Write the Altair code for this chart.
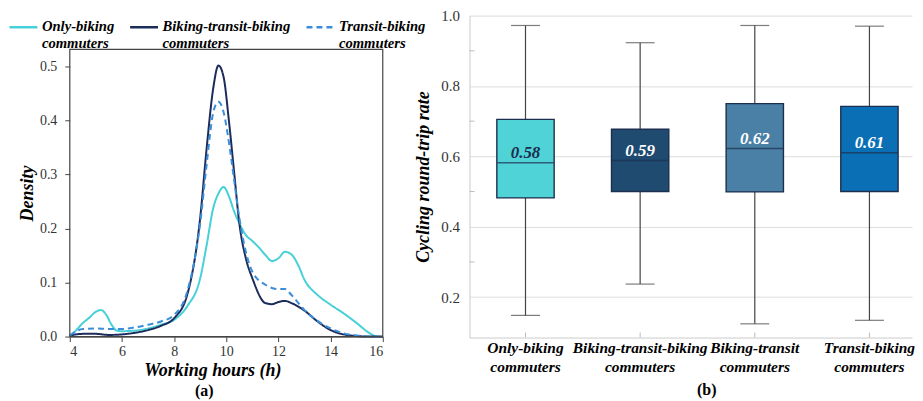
import altair as alt
import pandas as pd

SERIF = "Liberation Serif"

# ---------------- (a) density curves ----------------
groups = ["Only-biking commuters", "Biking-transit-biking commuters", "Transit-biking commuters"]
line_colors = ["#48d0d8", "#1c2d5c", "#3a8ed8"]

hours_ob = [4, 4.25, 4.5, 4.75, 5, 5.2, 5.4, 5.6, 5.8, 6, 6.5, 7, 7.5, 8, 8.5, 9, 9.25, 9.5, 9.7,
            9.9, 10.1, 10.3, 10.5, 10.75, 11, 11.25, 11.5, 11.75, 12, 12.25, 12.5, 12.75, 13,
            13.5, 14, 14.5, 15, 15.5, 15.75]
dens_ob = [0.0, 0.012, 0.025, 0.035, 0.046, 0.049, 0.040, 0.022, 0.011, 0.010, 0.011, 0.015,
           0.022, 0.031, 0.056, 0.108, 0.170, 0.238, 0.265, 0.277, 0.260, 0.232, 0.210, 0.188,
           0.177, 0.165, 0.151, 0.140, 0.145, 0.157, 0.152, 0.133, 0.105, 0.077, 0.059, 0.043,
           0.025, 0.006, 0.0]

hours_btb = [4, 4.5, 5, 5.5, 6, 6.5, 7, 7.5, 8, 8.5, 9, 9.25, 9.5, 9.7, 9.9, 10.1, 10.3, 10.5,
             10.75, 11, 11.5, 11.75, 12, 12.25, 12.5, 13, 13.5, 14, 14.5, 15, 15.5, 16]
dens_btb = [0.002, 0.005, 0.005, 0.003, 0.004, 0.007, 0.012, 0.020, 0.034, 0.077, 0.220, 0.350,
            0.460, 0.502, 0.480, 0.400, 0.305, 0.210, 0.145, 0.108, 0.062, 0.060, 0.064, 0.066,
            0.062, 0.048, 0.028, 0.012, 0.004, 0.001, 0.0, 0.0]

hours_tb = [4, 4.5, 5, 5.5, 6, 6.5, 7, 7.5, 8, 8.5, 9, 9.25, 9.5, 9.7, 9.9, 10.1, 10.3, 10.5,
            10.75, 11, 11.5, 12, 12.25, 12.5, 13, 13.5, 14, 14.5, 15, 15.5, 16]
dens_tb = [0.002, 0.014, 0.015, 0.014, 0.014, 0.017, 0.022, 0.028, 0.040, 0.083, 0.210, 0.320,
           0.415, 0.435, 0.415, 0.360, 0.290, 0.220, 0.157, 0.120, 0.096, 0.088, 0.088, 0.077,
           0.049, 0.029, 0.015, 0.006, 0.002, 0.0, 0.0]

rows = []
for g, hs, ds in zip(groups, [hours_ob, hours_btb, hours_tb], [dens_ob, dens_btb, dens_tb]):
    for h, d in zip(hs, ds):
        rows.append({"group": g, "hours": h, "density": d})
kde = pd.DataFrame(rows)

x_ticks_a = [4, 6, 8, 10, 12, 14, 16]
y_ticks_a = [0.0, 0.1, 0.2, 0.3, 0.4, 0.5]
# panel frame extent (axis limits of panel a)
frame_df = pd.DataFrame({"x0": [4], "x1": [16], "y0": [0.0], "y1": [0.532]})

NB = "\u00a0"
leg_expr = ("datum.label == 'Only-biking commuters' ? ['Only-biking', '" + NB + "commuters'] : "
            "datum.label == 'Biking-transit-biking commuters' ? ['Biking-transit-biking', '"
            + NB * 8 + "commuters'] : ['Transit-biking', '" + NB * 3 + "commuters']")

leg = alt.Legend(orient="none", legendX=-62, legendY=-4, direction="horizontal", title=None,
                 symbolType="stroke", symbolSize=784, symbolStrokeWidth=2.5,
                 labelFont=SERIF, labelFontSize=14.7, labelFontStyle="italic",
                 labelFontWeight="bold", labelColor="black", labelLimit=400,
                 labelOffset=3, columnPadding=10, padding=0, labelExpr=leg_expr)

H_A = 322
xs_a = alt.Scale(domain=[4, 16], nice=False)
ys_a = alt.Scale(domain=[0, 0.5944], nice=False)
xaxis_a = alt.Axis(values=x_ticks_a, title="Working hours (h)", grid=False,
                   labelFont=SERIF, labelFontSize=14, labelColor="#333",
                   tickColor="#444", tickSize=5, labelPadding=3, domainColor="#444",
                   titleFont=SERIF, titleFontSize=18, titleFontStyle="italic",
                   titleFontWeight="bold", titleColor="black", titlePadding=3, titleX=143)
yaxis_a = alt.Axis(values=y_ticks_a, format=".1f", title="Density", grid=False,
                   domain=False, labelFont=SERIF, labelFontSize=14, labelColor="#333",
                   tickColor="#444", tickSize=5, labelPadding=8,
                   titleFont=SERIF, titleFontSize=18, titleFontStyle="italic",
                   titleFontWeight="bold", titleColor="black", titlePadding=3, titleY=178)

lines = alt.Chart(kde).mark_line(strokeWidth=2, interpolate="monotone").encode(
    x=alt.X("hours:Q", scale=xs_a, axis=xaxis_a, title="Working hours (h)"),
    y=alt.Y("density:Q", scale=ys_a, axis=yaxis_a, title="Density"),
    color=alt.Color("group:N", scale=alt.Scale(domain=groups, range=line_colors), legend=leg),
    strokeDash=alt.StrokeDash("group:N", scale=alt.Scale(domain=groups,
                              range=[[1, 0], [1, 0], [6, 4]]), legend=leg),
)
frame = alt.Chart(frame_df).mark_rect(fillOpacity=0, stroke="#444", strokeWidth=1.2).encode(
    x=alt.X("x0:Q", scale=xs_a, axis=xaxis_a, title="Working hours (h)"), x2="x1:Q",
    y=alt.Y("y0:Q", scale=ys_a, axis=yaxis_a, title="Density"), y2="y1:Q",
)

left = alt.layer(lines, frame).properties(
    width=314, height=H_A,
    title=alt.TitleParams("(a)", orient="bottom", font=SERIF, fontSize=16, fontWeight="bold",
                          color="black", offset=4, anchor="middle", dx=-22),
)

# ---------------- (b) box plots ----------------
cats = ["Only-biking commuters", "Biking-transit-biking commuters",
        "Biking-transit commuters", "Transit-biking commuters"]
box_colors = ["#4fd3d6", "#1f4b70", "#4a80a6", "#0a6fb5"]
lower = [0.148, 0.237, 0.124, 0.134]
q1 = [0.482, 0.500, 0.499, 0.500]
median = [0.582, 0.588, 0.622, 0.610]
q3 = [0.705, 0.677, 0.750, 0.742]
upper = [0.972, 0.923, 0.972, 0.970]
y_ticks_b = [0.2, 0.4, 0.6, 0.8, 1.0]
minor_b = [0.3, 0.5, 0.7, 0.9]

box_df = pd.DataFrame({"category": cats, "lower": lower, "q1": q1, "median": median,
                       "q3": q3, "upper": upper})
minor_df = pd.DataFrame({"v": minor_b})

H_B = 323
W_B = 444
yscale = alt.Scale(domain=[0.085, 1.0], nice=False, zero=False)
yaxis = alt.Axis(values=y_ticks_b, format=".1f", title="Cycling round-trip rate",
                 grid=True, gridColor="#dddddd", ticks=False, tickSize=0,
                 domainColor="#cccccc", labelFont=SERIF, labelFontSize=15,
                 labelColor="#333", labelPadding=10, titleFont=SERIF,
                 titleFontSize=18, titleFontStyle="italic", titleFontWeight="bold",
                 titleColor="black", titlePadding=8)


def yenc(field):
    return alt.Y(field, scale=yscale, axis=yaxis, title="Cycling round-trip rate")


xscale = alt.Scale(domain=cats, paddingInner=0.5, paddingOuter=0.18, align=0.663)
xaxis = alt.Axis(title=None, labelExpr="split(datum.label, ' ')", labelAngle=0,
                 labelFont=SERIF, labelFontSize=15.5, labelFontStyle="italic",
                 labelFontWeight="bold", labelColor="black", labelLineHeight=19,
                 labelPadding=3, labelLimit=400, ticks=False, tickSize=0,
                 domainColor="#cccccc", grid=False)

base = alt.Chart(box_df).encode(x=alt.X("category:N", sort=cats, scale=xscale, axis=xaxis))

whisk = base.mark_rule(color="#444", strokeWidth=1.2).encode(y=yenc("lower:Q"), y2="upper:Q")
box = base.mark_bar(stroke="#1c2f4f", strokeWidth=1.4).encode(
    y=yenc("q1:Q"), y2="q3:Q",
    color=alt.Color("category:N", scale=alt.Scale(domain=cats, range=box_colors), legend=None),
)
med = base.mark_tick(color="#1c2f4f", thickness=1.5, size=57).encode(y=yenc("median:Q"))
cap_lo = base.mark_tick(color="#444", thickness=1.2, size=29).encode(y=yenc("lower:Q"))
cap_hi = base.mark_tick(color="#444", thickness=1.2, size=29).encode(y=yenc("upper:Q"))
txt = base.mark_text(dy=-10, font=SERIF, fontSize=17, fontStyle="italic",
                     fontWeight="bold").encode(
    y=yenc("median:Q"),
    text=alt.Text("median:Q", format=".2f"),
    color=alt.condition(alt.datum.category == cats[0], alt.value("#1a2f50"), alt.value("white")),
)
cat_ticks = base.mark_rule(color="#bbbbbb").encode(y=alt.value(H_B - 5), y2=alt.value(H_B))
minor = alt.Chart(minor_df).mark_rule(color="#bbbbbb").encode(
    y=yenc("v:Q"), x=alt.value(0), x2=alt.value(5))

right = alt.layer(whisk, box, med, cap_lo, cap_hi, txt, cat_ticks, minor).properties(
    width=W_B, height=H_B,
    title=alt.TitleParams("(b)", orient="bottom", font=SERIF, fontSize=16, fontWeight="bold",
                          color="black", offset=7, anchor="middle", dx=16),
)

chart = alt.hconcat(left, right, spacing=-11).resolve_scale(
    x="independent", y="independent", color="independent", strokeDash="independent"
).resolve_legend(color="independent", strokeDash="independent").properties(
    padding=0
).configure(font=SERIF).configure_view(strokeWidth=0)

chart.save("out.html", embed_options={"renderer": "svg", "actions": False})
